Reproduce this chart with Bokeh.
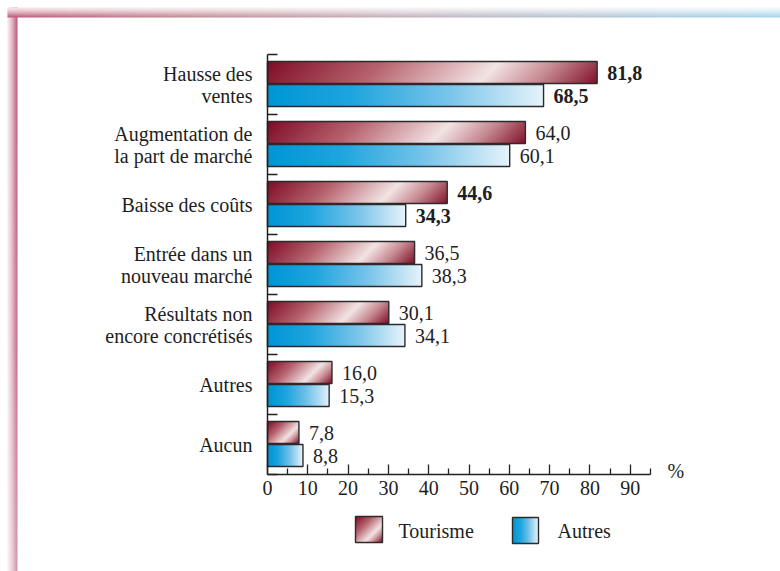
import numpy as np
from bokeh.plotting import figure
from bokeh.models import Range1d, LinearAxis, FixedTicker, ColumnDataSource
from bokeh.core.properties import value
from bokeh.embed import file_html
from bokeh.resources import INLINE

# ---------------- data ----------------
categories = ["Hausse des\nventes", "Augmentation de\nla part de marché", "Baisse des coûts",
              "Entrée dans un\nnouveau marché", "Résultats non\nencore concrétisés", "Autres", "Aucun"]
tourisme = [81.8, 64.0, 44.6, 36.5, 30.1, 16.0, 7.8]
autres = [68.5, 60.1, 34.3, 38.3, 34.1, 15.3, 8.8]
series_names = ["Tourisme", "Autres"]
x_ticks = [0, 10, 20, 30, 40, 50, 60, 70, 80, 90]
unit_label = "%"

# label emphasis (style)
tourisme_style = ["bold", "normal", "bold", "normal", "normal", "normal", "normal"]
autres_style = ["bold", "normal", "bold", "normal", "normal", "normal", "normal"]

# ---------------- layout helpers ----------------
W, H = 780, 571
OFF = 0                         # page offset of the canvas
PXU, PYU = 4.03, 60.0
X0, Y0 = 267.0, 474.0          # page pixel of data origin


def px2x(px):
    return (px - X0) / PXU


def py2y(py):
    return (Y0 - py) / PYU


FONT_NAME = "Liberation Serif"
FONT = value(FONT_NAME)
TXT = "#1e1e1e"

RED_STOPS = [(0.0, (128, 14, 40)), (0.33, (184, 100, 112)), (0.66, (243, 228, 228)),
             (0.82, (200, 140, 148)), (1.0, (130, 16, 42))]
BLUE_STOPS = [(0.0, (0, 150, 214)), (0.3, (30, 165, 222)), (0.65, (120, 196, 234)), (1.0, (230, 243, 251))]


def interp(t, stops):
    pos = [s[0] for s in stops]
    out = []
    for c in range(3):
        out.append(np.interp(t, pos, [s[1][c] for s in stops]))
    return out


def make_rgba(r, g, b, a):
    h, w = r.shape
    img = np.empty((h, w), dtype=np.uint32)
    v = img.view(dtype=np.uint8).reshape((h, w, 4))
    v[:, :, 0] = np.clip(r, 0, 255)
    v[:, :, 1] = np.clip(g, 0, 255)
    v[:, :, 2] = np.clip(b, 0, 255)
    v[:, :, 3] = np.clip(a, 0, 255)
    return img


def gradient_image(wpx, hpx, stops, diagonal):
    wpx = max(int(round(wpx)), 2)
    hpx = max(int(round(hpx)), 2)
    I, J = np.meshgrid(np.arange(wpx), np.arange(hpx))
    jdown = hpx - 1 - J
    if diagonal:
        t = (I + jdown) / float(wpx - 1 + hpx - 1)
    else:
        t = I / float(wpx - 1)
    r, g, b = interp(t, stops)
    return make_rgba(r, g, b, np.full_like(r, 255))


p = figure(width=W, height=H,
           x_range=Range1d(px2x(OFF), px2x(OFF + W)),
           y_range=Range1d(py2y(OFF + H), py2y(OFF)),
           x_axis_type=None, y_axis_type=None,
           output_backend="svg", toolbar_location=None,
           min_border=0, outline_line_color=None,
           background_fill_color="white", border_fill_color="white")

# ---------------- decorative frame ----------------
tw, th = 774, 10
I, J = np.meshgrid(np.arange(tw), np.arange(th))
th_t = I / (tw - 1)
tv = 1 - J / (th - 1)
inner_top = [(0.0, (190, 92, 122)), (0.22, (196, 138, 150)), (0.5, (198, 178, 188)),
             (0.68, (186, 194, 208)), (1.0, (166, 214, 236))]
r, g, b = interp(th_t, inner_top)
a = 0.15 + 0.85 * tv ** 1.3
img_top = make_rgba(255 + (r - 255) * a, 255 + (g - 255) * a, 255 + (b - 255) * a, np.full_like(r, 255))

lw_, lh_ = 10, 564
I, J = np.meshgrid(np.arange(lw_), np.arange(lh_))
t_h = I / (lw_ - 1)
t_y = 1 - J / (lh_ - 1)
r, g, b = interp(t_y, [(0.0, (190, 92, 122)), (0.6, (198, 110, 140)), (1.0, (214, 150, 172))])
a = 0.15 + 0.85 * t_h ** 1.3
img_left = make_rgba(255 + (r - 255) * a, 255 + (g - 255) * a, 255 + (b - 255) * a, np.full_like(r, 255))

p.image_rgba(image=[img_left], x=px2x(7), y=py2y(571), dw=10 / PXU, dh=564 / PYU)
p.image_rgba(image=[img_top], x=px2x(7), y=py2y(17), dw=774 / PXU, dh=10 / PYU)

# ---------------- bars ----------------
n = len(categories)
group_top = [n - i for i in range(n)]
bar_h = 22 / PYU
red_y = [gt - 18 / PYU for gt in group_top]
blue_y = [gt - 41 / PYU for gt in group_top]

imgs, xs, ys, dws, dhs = [], [], [], [], []
for v, yc in zip(tourisme, red_y):
    imgs.append(gradient_image(v * PXU, 22, RED_STOPS, True))
    xs.append(0); ys.append(yc - bar_h / 2); dws.append(v); dhs.append(bar_h)
for v, yc in zip(autres, blue_y):
    imgs.append(gradient_image(v * PXU, 22, BLUE_STOPS, False))
    xs.append(0); ys.append(yc - bar_h / 2); dws.append(v); dhs.append(bar_h)
p.image_rgba(image=imgs, x=xs, y=ys, dw=dws, dh=dhs)

p.hbar(y=red_y, left=0, right=tourisme, height=bar_h, fill_alpha=0,
       line_color="#2b2b2b", line_width=1.4)
p.hbar(y=blue_y, left=0, right=autres, height=bar_h, fill_alpha=0,
       line_color="#2b2b2b", line_width=1.4)


def fmt(v):
    return f"{v:.1f}".replace(".", ",")


lab_src = ColumnDataSource(dict(
    x=list(tourisme) + list(autres),
    y=red_y + blue_y,
    t=[fmt(v) for v in tourisme] + [fmt(v) for v in autres],
    s=tourisme_style + autres_style))
p.text(x="x", y="y", text="t", source=lab_src, x_offset=10, text_font=FONT,
       text_font_size="20px", text_font_style="s", text_color=TXT,
       text_align="left", text_baseline="middle")

# category labels
p.text(x=px2x(252), y=[gt - 0.5 for gt in group_top], text=categories, text_font=FONT,
       text_font_size="20px", text_color=TXT, text_align="right", text_baseline="middle",
       text_line_height=1.0)

# unit
p.text(x=px2x(667), y=py2y(470), text=[unit_label], text_font=FONT, text_font_size="20px",
       text_color=TXT, text_align="left", text_baseline="middle")

# ---------------- axes ----------------
xaxis = LinearAxis(fixed_location=0, bounds=(0, 95),
                   ticker=FixedTicker(ticks=x_ticks, minor_ticks=[t + 5 for t in x_ticks]),
                   axis_line_color="#222222", axis_line_width=1.5,
                   major_tick_line_color="#222222", major_tick_line_width=1.3,
                   minor_tick_line_color="#222222", minor_tick_line_width=1.3,
                   major_tick_in=10, major_tick_out=0, minor_tick_in=6, minor_tick_out=0,
                   major_label_text_font=FONT_NAME, major_label_text_font_size="20px",
                   major_label_text_color=TXT, major_label_standoff=6)
p.add_layout(xaxis, "below")

yaxis = LinearAxis(fixed_location=0, bounds=(0, n),
                   ticker=FixedTicker(ticks=list(range(n + 1))),
                   axis_line_color="#222222", axis_line_width=1.5,
                   major_tick_line_color="#222222", major_tick_line_width=1.3,
                   major_tick_in=10, major_tick_out=0, minor_tick_in=0, minor_tick_out=0,
                   major_label_text_font_size="0px", major_label_text_alpha=0)
p.add_layout(yaxis, "left")

# ---------------- legend ----------------
leg = [((355, 516, 382, 542), RED_STOPS, True),
       ((512, 517, 538, 543), BLUE_STOPS, False)]
for (x1, y1, x2, y2), stops, diag in leg:
    p.image_rgba(image=[gradient_image(x2 - x1, y2 - y1, stops, diag)],
                 x=px2x(x1), y=py2y(y2), dw=(x2 - x1) / PXU, dh=(y2 - y1) / PYU)
    p.quad(left=px2x(x1), right=px2x(x2), top=py2y(y1), bottom=py2y(y2),
           fill_alpha=0, line_color="#2b2b2b", line_width=1.4)
for name, tx in zip(series_names, [398, 557]):
    p.text(x=px2x(tx), y=py2y(530), text=[name], text_font=FONT, text_font_size="20px",
           text_color=TXT, text_align="left", text_baseline="middle")

open("out.html", "w").write(file_html(p, INLINE))
